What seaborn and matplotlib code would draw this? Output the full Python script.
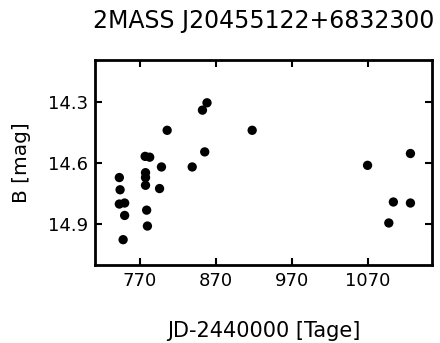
import pandas as pd
import matplotlib
matplotlib.use("Agg")
import matplotlib.pyplot as plt
import seaborn as sns

jd = [743, 744, 743, 750, 750, 748, 777, 783, 777.5, 777.5, 777.5, 779, 780,
      798.5, 796, 806, 839, 852.5, 858.5, 855.5, 918, 1070, 1126.5, 1104, 1126.5, 1098]
bmag = [14.67, 14.73, 14.80, 14.795, 14.856, 14.975, 14.566, 14.57, 14.646, 14.67,
        14.708, 14.83, 14.908, 14.618, 14.724, 14.438, 14.618, 14.339, 14.303, 14.544,
        14.438, 14.61, 14.552, 14.79, 14.795, 14.893]
xticks = [770, 870, 970, 1070]
yticks = [14.3, 14.6, 14.9]

df = pd.DataFrame({'jd': jd, 'B': bmag})

sns.set_style("ticks")
plt.rcParams['font.family'] = ['DejaVu Sans']
plt.rcParams['text.color'] = 'black'
plt.rcParams['axes.labelcolor'] = 'black'

fig = plt.figure(figsize=(4.4, 3.43), dpi=100)
ax = fig.add_axes([0.216, 0.227, 0.766, 0.598])
sns.scatterplot(data=df, x='jd', y='B', color='black', s=45, edgecolor='none', ax=ax)

ax.set_xlim(711, 1155)
ax.set_ylim(15.1, 14.093)
ax.set_xticks(xticks)
ax.set_yticks(yticks)
ax.set_yticklabels(['14.3', '14.6', '14.9'])
ax.tick_params(direction='in', length=5, width=1.5, top=True, right=True,
               labelsize=13, colors='black', pad=5)
for sp in ax.spines.values():
    sp.set_linewidth(2)
    sp.set_color('black')

ax.set_xlabel('JD-2440000 [Tage]', fontsize=15, labelpad=22)
ax.set_ylabel('B [mag]', fontsize=14.5, labelpad=12)
ax.set_title('2MASS J20455122+6832300', fontsize=17, pad=23)

fig.savefig('out.png', dpi=100)
